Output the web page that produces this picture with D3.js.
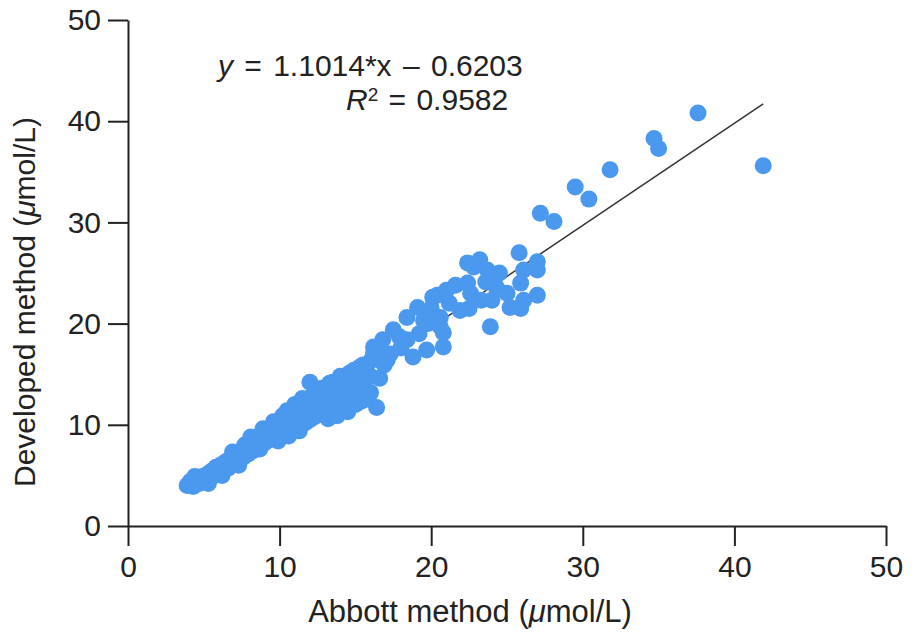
<!DOCTYPE html>
<html>
<head>
<meta charset="utf-8">
<script src="https://cdn.jsdelivr.net/npm/d3@7"></script>
<style>
  body { margin: 0; background: #fff; }
  svg text { font-family: "Liberation Sans", Arial, sans-serif; fill: #222; }
</style>
</head>
<body>
<div id="chart"></div>
<script>
const width = 922;
const height = 636;

// Abbott method values (x) and developed method values (y), µmol/L
const abbott = [
  3.9, 4.1, 4.3, 4.5, 4.7, 4.9, 5.0, 5.2, 5.4, 5.5, 5.7, 5.8, 6.0, 6.1, 6.3, 6.4, 6.6, 6.7, 6.8, 7.0,
  7.1, 7.2, 7.4, 7.5, 7.6, 7.8, 7.9, 8.0, 8.2, 8.3, 8.4, 8.5, 8.6, 8.8, 8.8, 9.0, 9.1, 9.2, 9.3, 9.4,
  9.5, 9.6, 9.7, 9.8, 9.9, 10.0, 10.1, 10.2, 10.3, 10.4, 10.5, 10.6, 10.7, 10.8, 10.9, 11.0, 11.1, 11.2, 11.3, 11.4,
  11.5, 11.6, 11.7, 11.8, 11.9, 12.0, 12.0, 12.1, 12.2,
  4.4, 5.3, 6.2, 6.9, 7.7, 8.1, 8.9, 7.3, 8.7, 9.6, 10.2, 9.9, 10.6, 11.3, 11.8,
  12.3, 12.4, 12.5, 12.6, 12.7, 12.8, 12.9, 13.0, 13.1, 13.2, 13.3, 13.4, 13.5, 13.6, 13.7, 13.8, 13.9, 14.0, 14.1, 14.2,
  14.4, 14.4, 14.5, 14.6, 14.7, 14.8, 15.0, 15.1, 15.3, 15.4, 15.6, 15.8, 16.0, 16.2, 16.2, 16.4, 16.6, 16.8, 17.1,
  15.2, 15.9, 13.8,
  12.8, 13.5, 14.0, 14.9, 15.5, 13.2, 14.5, 15.5, 12.2, 11.5, 11.0, 10.5, 14.2, 15.0, 16.0, 16.6, 16.0, 16.9,
  17.5, 17.9, 18.4, 18.4, 18.8, 19.1, 19.5, 19.7, 19.2, 18.0, 17.3,
  20.4, 20.6, 20.8, 20.8, 20.1, 20.6, 19.8, 21.0, 21.2, 21.9, 20.0,
  22.4, 22.4, 22.6, 22.8, 23.2, 23.7, 23.3, 22.5, 23.9, 24.3, 24.5, 25.0, 25.2, 25.8, 25.9, 25.9, 26.1, 26.1,
  27.0, 27.0, 27.0, 24.0, 23.6, 21.6,
  27.2, 28.1, 29.5, 30.4, 31.8, 34.7, 35.0, 37.6, 41.9
];
const developed = [
  4.0, 4.4, 3.9, 4.6, 4.2, 4.9, 4.4, 5.1, 4.7, 5.4, 5.0, 5.8, 5.2, 6.0, 5.5, 6.3, 5.7, 6.6, 6.0, 6.8,
  6.3, 7.1, 6.6, 7.3, 6.8, 7.6, 7.1, 7.9, 7.4, 8.3, 7.7, 8.7, 8.0, 8.5, 9.1, 8.2, 8.8, 9.4, 8.5, 9.1,
  9.7, 8.7, 9.3, 10.0, 8.9, 9.6, 10.2, 9.2, 9.9, 10.5, 9.4, 10.1, 10.8, 9.3, 10.3, 11.0, 9.7, 10.5, 11.3, 10.0,
  10.8, 11.5, 10.2, 11.0, 11.8, 10.5, 14.2, 11.3, 12.1,
  4.9, 4.2, 5.0, 7.3, 8.0, 8.8, 9.6, 6.0, 7.6, 10.3, 10.9, 8.4, 8.9, 9.4, 12.2,
  10.8, 11.6, 12.4, 11.0, 11.9, 12.8, 11.3, 12.2, 13.2, 11.6, 14.1, 12.5, 11.2, 13.4, 12.0, 12.9, 11.7, 13.7, 12.4, 11.4,
  14.7, 13.1, 12.1, 15.1, 13.8, 12.7, 14.2, 13.3, 15.7, 14.5, 13.6, 15.1, 14.8, 17.7, 17.1, 11.7, 17.7, 18.4, 16.4,
  12.2, 13.0, 10.9,
  13.6, 14.2, 14.8, 15.4, 15.9, 10.6, 11.3, 12.4, 13.0, 12.6, 12.0, 11.4, 13.8, 12.0, 13.2, 14.6, 16.3, 15.9,
  19.4, 18.7, 18.4, 20.6, 16.7, 21.6, 20.3, 17.4, 19.0, 17.6, 17.0,
  22.8, 19.7, 17.7, 19.1, 22.6, 20.6, 20.0, 23.3, 22.0, 21.3, 21.5,
  24.0, 26.0, 23.0, 25.6, 26.3, 25.3, 22.3, 21.5, 19.7, 23.6, 25.0, 23.0, 21.6, 27.0, 24.0, 21.5, 22.3, 25.3,
  22.8, 26.1, 25.3, 22.3, 24.1, 23.8,
  30.9, 30.1, 33.5, 32.3, 35.2, 38.3, 37.3, 40.8, 35.6
];

// regression line as drawn in the figure (end points)
const fitX = [4.0, 41.9];
const fitY = [3.5, 41.7];

const xTicks = [0, 10, 20, 30, 40, 50];
const yTicks = [0, 10, 20, 30, 40, 50];

const svg = d3.select("#chart")
    .append("svg")
    .attr("width", width)
    .attr("height", height);

const x = d3.scaleLinear().domain([0, 50]).range([128, 886]);
const y = d3.scaleLinear().domain([0, 50]).range([526, 20]);

// axes
const xAxis = svg.append("g")
    .attr("transform", `translate(0, ${y(0)})`)
    .call(d3.axisBottom(x).tickValues(xTicks).tickSize(20).tickSizeOuter(0).tickPadding(10));

const yAxis = svg.append("g")
    .attr("transform", `translate(${x(0)}, 0)`)
    .call(d3.axisLeft(y).tickValues(yTicks).tickSize(20).tickSizeOuter(0).tickPadding(7));

[xAxis, yAxis].forEach(g => {
    g.select(".domain").attr("stroke", "#222").attr("stroke-width", 2);
    g.selectAll(".tick line").attr("stroke", "#222").attr("stroke-width", 2);
    g.selectAll(".tick text")
        .attr("font-size", 30)
        .attr("font-family", "Liberation Sans, Arial, sans-serif")
        .attr("fill", "#222");
});

// fit line (drawn under the points)
svg.append("line")
    .attr("x1", x(fitX[0]))
    .attr("y1", y(fitY[0]))
    .attr("x2", x(fitX[1]))
    .attr("y2", y(fitY[1]))
    .attr("stroke", "#333")
    .attr("stroke-width", 1.5);

// points
const points = abbott.map((d, i) => ({ a: d, b: developed[i] }));

svg.append("g")
    .selectAll("circle")
    .data(points)
    .join("circle")
    .attr("cx", d => x(d.a))
    .attr("cy", d => y(d.b))
    .attr("r", 8.5)
    .attr("fill", "#4b98ef");

// equation text
const eq = svg.append("text")
    .attr("x", 218)
    .attr("y", 76)
    .attr("font-size", 30)
    .attr("word-spacing", 3);
eq.append("tspan").attr("font-style", "italic").text("y");
eq.append("tspan").text(" = 1.1014*x \u2013 0.6203");

const r2 = svg.append("text")
    .attr("x", 346)
    .attr("y", 110)
    .attr("font-size", 30)
    .attr("word-spacing", 2);
r2.append("tspan").attr("font-style", "italic").text("R");
r2.append("tspan").attr("font-size", 19).attr("dy", -9).text("2");
r2.append("tspan").attr("dy", 9).text(" = 0.9582");

// axis titles
const xt = svg.append("text")
    .attr("x", 470)
    .attr("y", 622)
    .attr("text-anchor", "middle")
    .attr("font-size", 31);
xt.append("tspan").text("Abbott method (");
xt.append("tspan").attr("font-style", "italic").text("\u03bc");
xt.append("tspan").text("mol/L)");

const yt = svg.append("text")
    .attr("transform", "translate(35, 302) rotate(-90)")
    .attr("text-anchor", "middle")
    .attr("font-size", 30);
yt.append("tspan").text("Developed method (");
yt.append("tspan").attr("font-style", "italic").text("\u03bc");
yt.append("tspan").text("mol/L)");
</script>
</body>
</html>
